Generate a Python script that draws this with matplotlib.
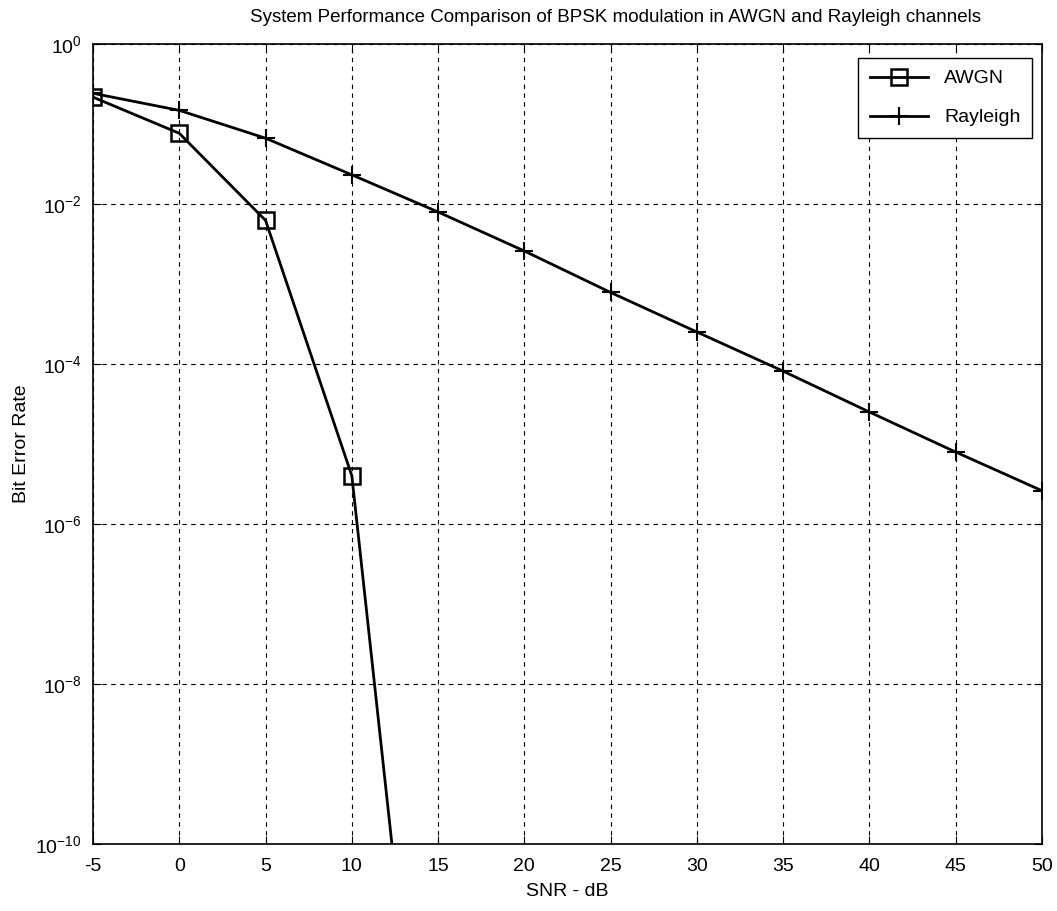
import matplotlib.pyplot as plt
import numpy as np

# SNR (dB) values
snr_awgn = [-5, 0, 5, 10, 15]
ber_awgn = [0.215, 0.076, 0.0062, 4.0e-6, 5e-16]

snr_rayleigh = [-5, 0, 5, 10, 15, 20, 25, 30, 35, 40, 45, 50]
ber_rayleigh = [0.24, 0.147, 0.066, 0.023, 0.0079, 0.00257, 7.8e-4,
                2.5e-4, 8.1e-5, 2.5e-5, 7.9e-6, 2.6e-6]

xticks = [-5, 0, 5, 10, 15, 20, 25, 30, 35, 40, 45, 50]
yticks = [1e-10, 1e-8, 1e-6, 1e-4, 1e-2, 1e0]

plt.rcParams['font.family'] = ['Liberation Sans', 'DejaVu Sans']
plt.rcParams['mathtext.fontset'] = 'custom'
plt.rcParams['mathtext.rm'] = 'Liberation Sans'

fig = plt.figure(figsize=(10.57, 9.11), dpi=100)
ax = fig.add_axes([0.088, 0.0735, 0.8978, 0.8785])

ax.semilogy(snr_awgn, ber_awgn, color='black', linewidth=2, marker='s',
            markersize=12, markerfacecolor='none', markeredgewidth=1.8,
            label='AWGN')
ax.semilogy(snr_rayleigh, ber_rayleigh, color='black', linewidth=2, marker='+',
            markersize=13, markeredgewidth=1.5, label='Rayleigh')

ax.set_xlim(-5, 50)
ax.set_ylim(1e-10, 1)
ax.set_xticks(xticks)
ax.set_xticklabels([str(t) for t in xticks])
ax.set_yticks(yticks)
ax.set_yticklabels([r'$\mathregular{10^{%d}}$' % int(np.log10(t)) for t in yticks])
ax.minorticks_off()
ax.tick_params(direction='in', top=True, right=True, length=6, labelsize=14)
ax.tick_params(axis='x', pad=10)
ax.tick_params(axis='y', pad=8)

ax.grid(True, color='black', linestyle=(0, (4, 4)), linewidth=0.8)
for s in ax.spines.values():
    s.set_linewidth(1.2)

ax.set_xlabel('SNR - dB', fontsize=14, labelpad=6)
ax.set_ylabel('Bit Error Rate', fontsize=14)
ax.set_title('System Performance Comparison of BPSK modulation in AWGN and Rayleigh channels',
             fontsize=13.5, pad=16, x=0.551)

leg = ax.legend(loc='upper right', fontsize=14, fancybox=False, framealpha=1,
                edgecolor='black', bbox_to_anchor=(0.9895, 0.982),
                borderaxespad=0, borderpad=0.6, labelspacing=1.1,
                handlelength=3.0)
leg.get_frame().set_linewidth(1.0)

plt.savefig('out.png', dpi=100)
